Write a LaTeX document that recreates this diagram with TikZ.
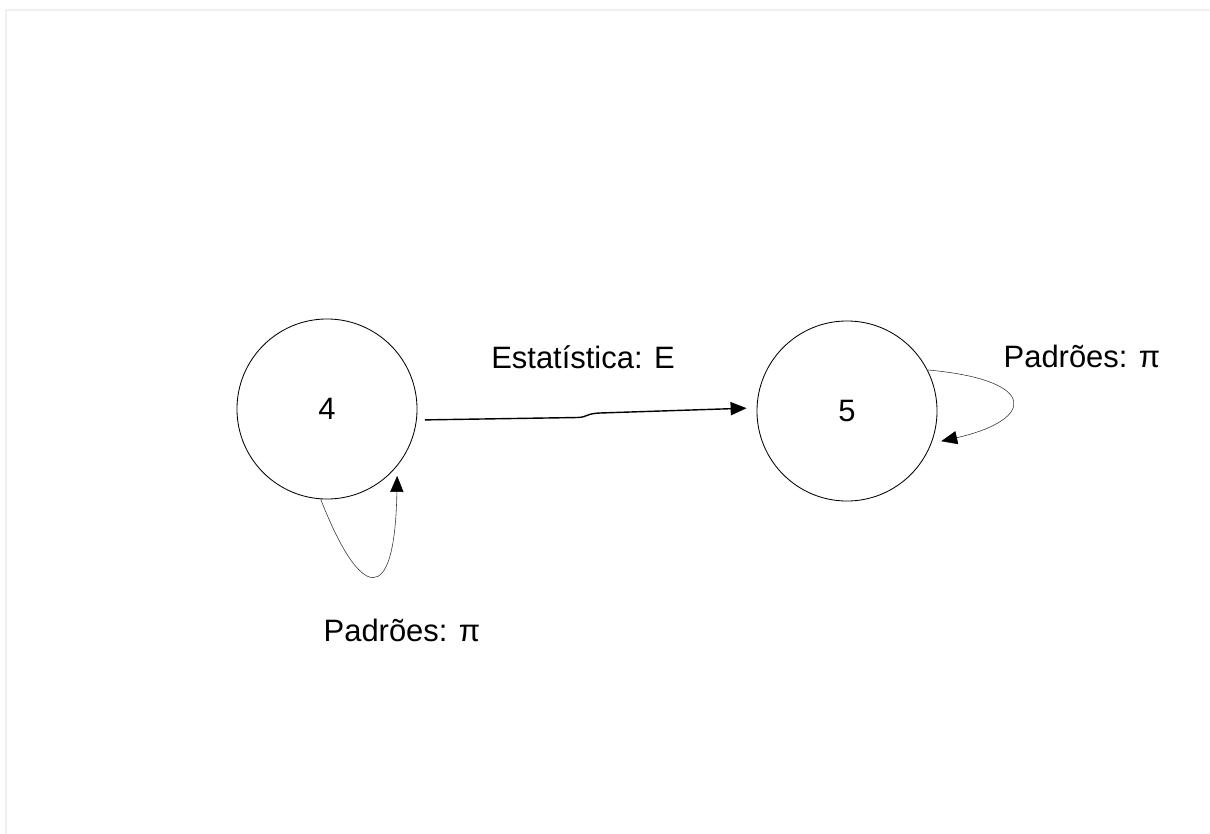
\documentclass[tikz,border=0pt]{standalone}
\usepackage{fontspec}
\setmainfont{Liberation Sans}
\usetikzlibrary{positioning, arrows.meta}

\begin{document}
\begin{tikzpicture}[x=0.025cm, y=-0.025cm,
        state/.style={circle, draw, line width=0.6pt, minimum size=4.5cm, inner sep=0pt, font=\fontsize{22}{26}\selectfont},
        lbl/.style={font=\fontsize{22}{26}\selectfont},
        tip/.style={-{Triangle[length=0.4cm, width=0.33cm, color=black]}},
        loop/.style={tip, line width=0.4pt, draw=black!80}]
            \useasboundingbox (0, 0) rectangle (1210, 834);
            \draw[black!6, line width=0.8pt] (6, 834) -- (6, 10) -- (1210, 10);

            \node[state] (s4) at (327, 409) {4};
            \node[state] (s5) at (847, 411) {5};

            \draw[tip, line width=1pt, shorten <=0.2cm, shorten >=0.25cm] (s4.-7) -- (578, 417.5) .. controls (588, 417) and (586, 413.5) .. (600, 413) -- (s5.178);
            \draw[loop, shorten >=0.25cm] (s4.-94) .. controls (360, 600) and (395, 610) .. (s4.-39);
            \draw[loop, shorten >=0.25cm] (s5.27) .. controls (1040, 380) and (1035, 420) .. (s5.-21);

            \node[lbl] (stat) at (583, 357) {Estatística: E};
            \node[lbl] (pad5) at (1082, 356) {Padrões: π};
            \node[lbl] (pad4) at (402, 630) {Padrões: π};
        \end{tikzpicture}
\end{document}
